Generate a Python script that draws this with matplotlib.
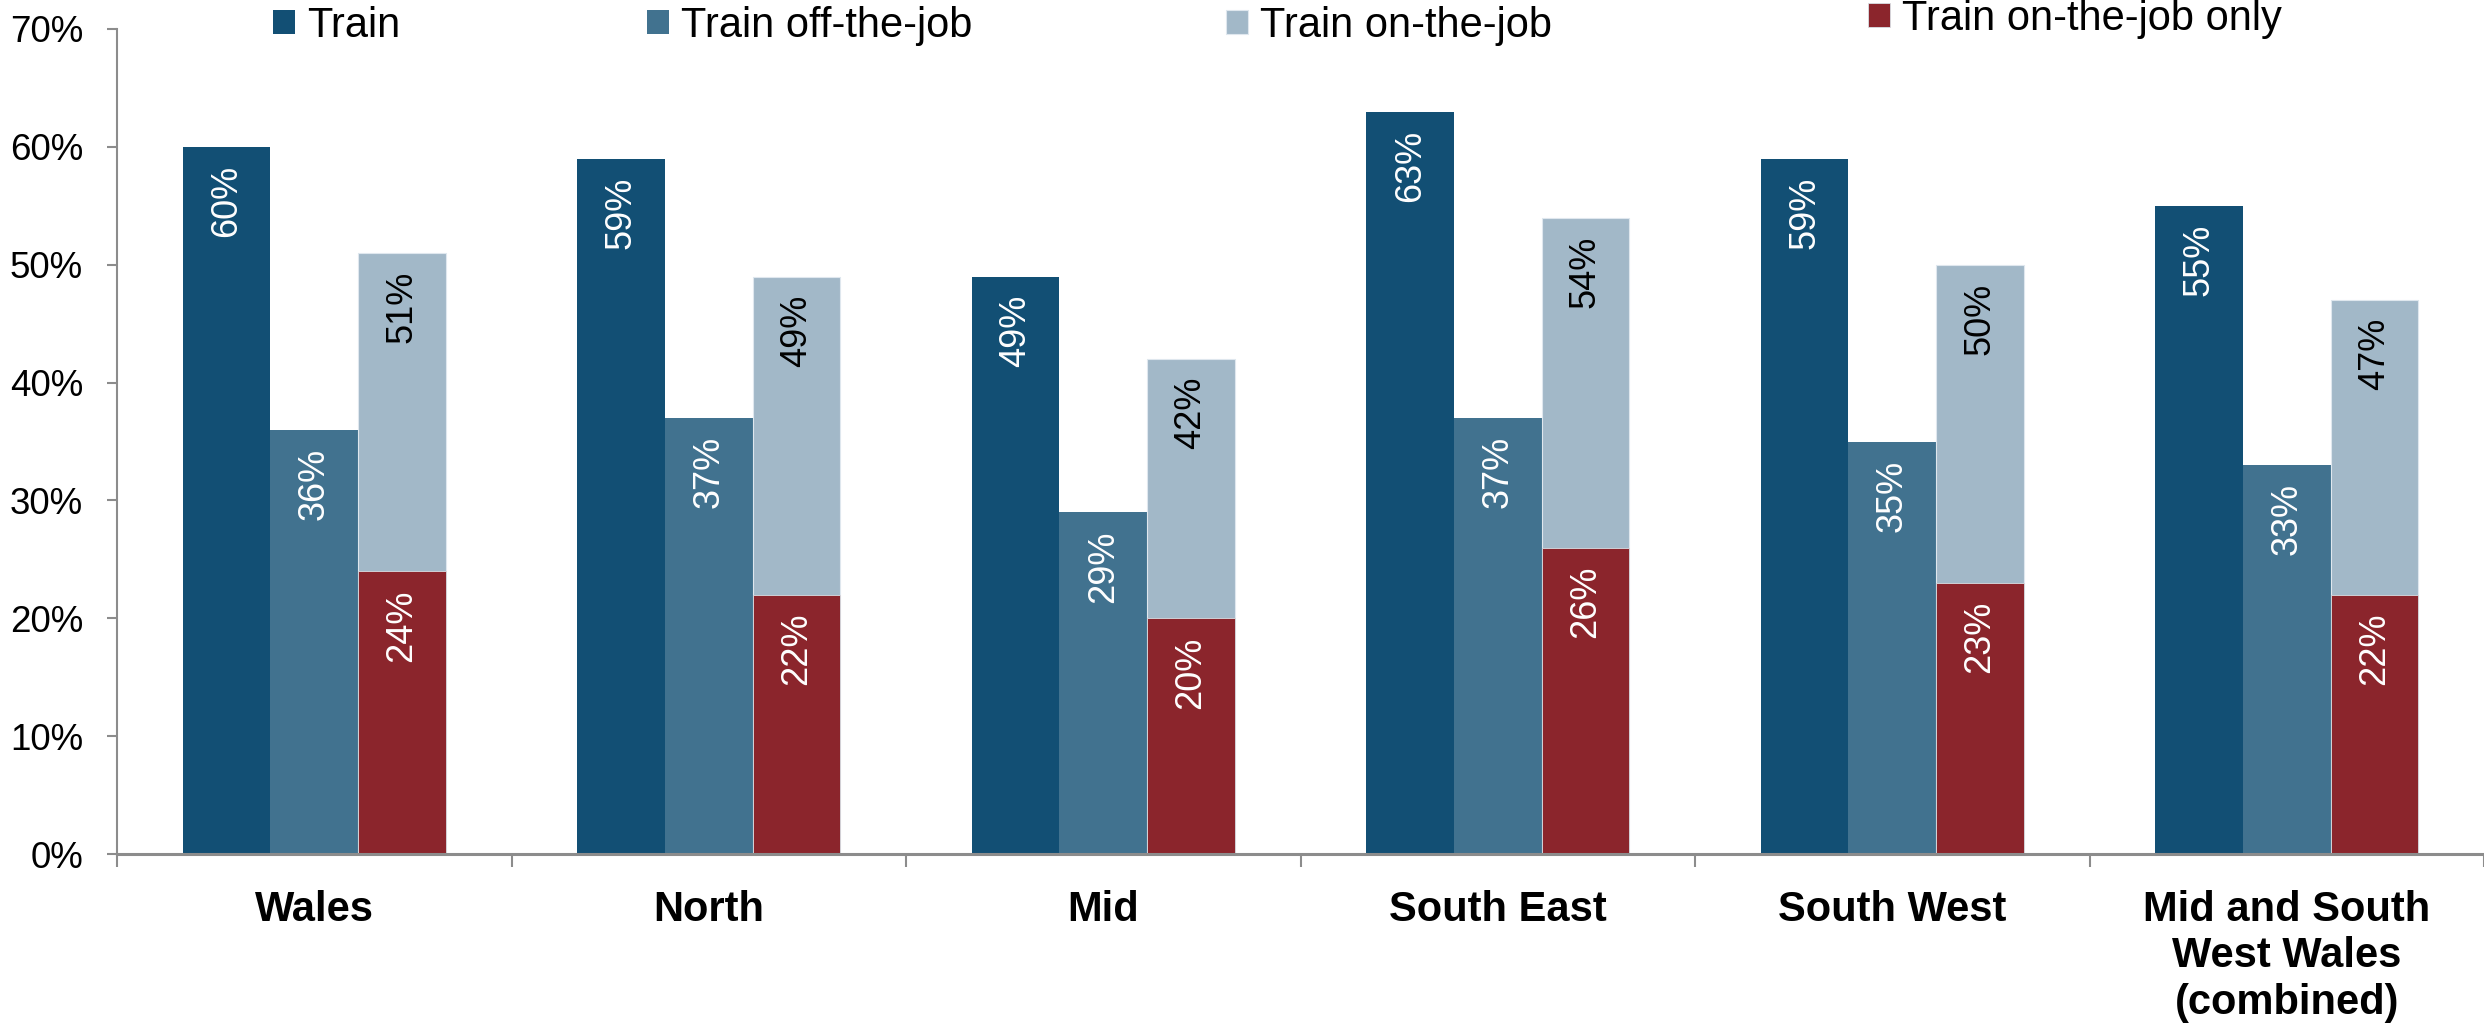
import matplotlib
matplotlib.use("Agg")
import matplotlib.pyplot as plt
import matplotlib.ticker as mticker
import numpy as np

# ── Data ──────────────────────────────────────────────────────────────────────
regions = ["Wales", "North", "Mid", "South East", "South West",
           "Mid and South\nWest Wales\n(combined)"]

train          = [60, 59, 49, 63, 59, 55]
train_off_job  = [36, 37, 29, 37, 35, 33]
train_on_job   = [51, 49, 42, 54, 50, 47]
on_job_only    = [24, 22, 20, 26, 23, 22]

series_names = ["Train", "Train off-the-job", "Train on-the-job",
                "Train on-the-job only"]

# ── Colours ───────────────────────────────────────────────────────────────────
C_TRAIN = "#124f74"
C_OFF   = "#41728f"
C_ON    = "#a2b8c8"
C_ONLY  = "#8b252c"
C_AXIS  = "#8c8c8c"

plt.rcParams["font.family"] = ["Liberation Sans", "DejaVu Sans"]

W, H = 2484, 1027
fig = plt.figure(figsize=(W / 100, H / 100), dpi=100)
ax = fig.add_axes([117 / W, 1 - 854 / H, 1 - 117 / W, (854 - 29) / H])

x = np.arange(len(regions))
bw = 0.222

b1 = ax.bar(x - bw, train, bw, color=C_TRAIN, zorder=2)
b2 = ax.bar(x, train_off_job, bw, color=C_OFF, zorder=2)
b3 = ax.bar(x + bw, train_on_job, bw, color=C_ON, zorder=2,
            edgecolor="#dfe7ee", linewidth=0.8)
b4 = ax.bar(x + bw, on_job_only, bw, color=C_ONLY, zorder=3,
            edgecolor="#d9dfe4", linewidth=0.6)

# value labels, rotated, just inside the top of each bar
for bars, vals, col in [(b1, train, "white"), (b2, train_off_job, "white"),
                        (b3, train_on_job, "black"), (b4, on_job_only, "white")]:
    for rect, v in zip(bars, vals):
        ax.annotate(f"{v}%", xy=(rect.get_x() + rect.get_width() / 2, v),
                    xytext=(0, -13), textcoords="offset points",
                    ha="center", va="top", rotation=90,
                    color=col, fontsize=26, zorder=4)

# ── Axes styling ──────────────────────────────────────────────────────────────
ax.set_xlim(-0.5, len(regions) - 0.5)
ax.set_ylim(0, 70)
ax.yaxis.set_major_locator(mticker.MultipleLocator(10))
ax.yaxis.set_major_formatter(mticker.FuncFormatter(lambda v, _: f"{v:.0f}%"))
ax.tick_params(axis="y", direction="out", length=7.5, width=1.5,
               color=C_AXIS, labelsize=26.5, pad=17)

# group separators as major ticks, region names as minor ticks
ax.set_xticks(np.arange(len(regions) + 1) - 0.5)
ax.set_xticklabels([])
ax.set_xticks(x, minor=True)
ax.set_xticklabels(regions, minor=True, fontsize=30, fontweight="bold",
                   linespacing=1.2)
ax.tick_params(axis="x", which="major", direction="out", length=9,
               width=1.5, color=C_AXIS)
ax.tick_params(axis="x", which="minor", length=0, pad=26)

for side in ("top", "right"):
    ax.spines[side].set_visible(False)
ax.spines["left"].set_color(C_AXIS)
ax.spines["left"].set_linewidth(1.5)
ax.spines["bottom"].set_color(C_AXIS)
ax.spines["bottom"].set_linewidth(2.2)
ax.spines["bottom"].set_zorder(5)

# ── Legend: four entries placed individually along the top ───────────────────
entries = [(b1, 273, 26), (b2, 647, 26), (b3, 1226, 26), (b4, 1868, 19)]
for (bars, px, py), name in zip(entries, series_names):
    fig.legend([bars], [name], loc="center left",
               bbox_to_anchor=(px / W, 1 - py / H),
               frameon=False, fontsize=30, handlelength=0.52,
               handleheight=0.52, handletextpad=0.3,
               borderpad=0, borderaxespad=0)

fig.savefig("out.png", dpi=100, facecolor="white")
